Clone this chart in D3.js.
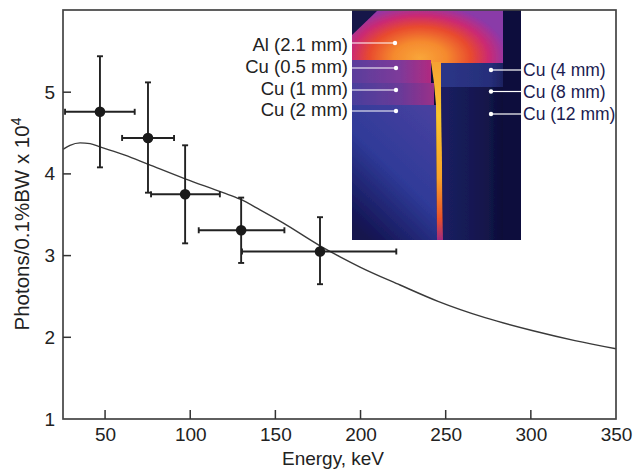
<!DOCTYPE html>
<html><head><meta charset="utf-8">
<script src="https://cdn.jsdelivr.net/npm/d3@7"></script>
<style>html,body{margin:0;padding:0;background:#fff;overflow:hidden}svg{display:block}text{font-family:"Liberation Sans",Arial,sans-serif}</style>
</head><body><svg id="c" width="633" height="470"></svg>
<script>
const curveE=[25.3,29.4,35.3,41.2,47,61.7,75.1,97,119.3,129.3,141,154.5,176.2,188,199.7,223.2,245.5,273.1,301.3,325.9,350];
const curveP=[4.30,4.35,4.38,4.37,4.33,4.23,4.12,3.94,3.77,3.69,3.56,3.40,3.12,2.985,2.86,2.64,2.44,2.24,2.08,1.96,1.86];
const ptE=[47,75.2,97,129.9,176.2];
const ptP=[4.76,4.44,3.75,3.31,3.05];
const ptELo=[26.5,60,77,105,130.4];
const ptEHi=[67.4,90.5,117.4,155.3,221];
const ptPLo=[4.08,3.77,3.15,2.91,2.65];
const ptPHi=[5.44,5.12,4.35,3.71,3.47];
const xTicks=[50,100,150,200,250,300,350];
const yTicks=[1,2,3,4,5];
const leftLabels=["Al (2.1 mm)","Cu (0.5 mm)","Cu (1 mm)","Cu (2 mm)"];
const rightLabels=["Cu (4 mm)","Cu (8 mm)","Cu (12 mm)"];

const svg=d3.select("#c");
const L=63,R=616,T=10,B=419;
const x=d3.scaleLinear().domain([25.3,350]).range([L,R]);
const y=d3.scaleLinear().domain([1,6.006]).range([B,T]);

// thermal inset
const defs=svg.append("defs");
function grad(tag,id,attrs,stops){const g=defs.append(tag).attr("id",id);Object.entries(attrs).forEach(([k,v])=>g.attr(k,v));
 stops.forEach(s=>g.append("stop").attr("offset",s[0]).attr("stop-color",s[1]));}
grad("radialGradient","dome",{gradientUnits:"userSpaceOnUse",cx:0,cy:0,r:1,gradientTransform:"translate(420,58) scale(88,54)"},
 [[0,"#f9a63a"],[.3,"#f58a2e"],[.58,"#e84a2e"],[.78,"#cb2a72"],[.95,"#9a35a0"],[1,"#8a3aa8"]]);
grad("linearGradient","cu05",{x1:0,x2:1,y1:0,y2:0},[[0,"#5a3d9c"],[.6,"#7d3a9a"],[1,"#b02a80"]]);
grad("linearGradient","cu1",{x1:0,x2:1,y1:0,y2:0},[[0,"#4a3f9c"],[.6,"#6a3a98"],[1,"#9a2f88"]]);
grad("linearGradient","cu2",{x1:0.8,x2:0.2,y1:0,y2:1},[[0,"#46409f"],[.5,"#2f3a98"],[1,"#12124e"]]);
grad("linearGradient","r1",{x1:0,x2:1,y1:0,y2:0},[[0,"#2c3688"],[.8,"#262e7a"],[1,"#1d2260"]]);
grad("linearGradient","r2",{x1:0,x2:1,y1:0,y2:0},[[0,"#1b1f62"],[.7,"#14164c"],[1,"#0c0d38"]]);
grad("linearGradient","slit",{x1:0,x2:0,y1:0,y2:1},[[0,"#f6a033"],[.3,"#f9c62e"],[.65,"#f8a22a"],[.88,"#e8502c"],[1,"#a02a80"]]);
defs.append("filter").attr("id","soft").append("feGaussianBlur").attr("stdDeviation",0.6);
const im=svg.append("g").attr("filter","url(#soft)");
const rect=(a,b,c,d,f)=>im.append("rect").attr("x",a).attr("y",b).attr("width",c-a).attr("height",d-b).attr("fill",f);
const poly=(p,f)=>im.append("polygon").attr("points",p).attr("fill",f);
rect(352,10,521,240,"#0d0e3c");
rect(352,10,503,63,"url(#dome)");
poly("352,10 378,10 352,35","#12124a");
rect(352,60,431,83,"url(#cu05)");
rect(352,83,434,105,"url(#cu1)");
poly("352,105 436,105 437,240 352,240","url(#cu2)");
poly("431,62 441,62 443,240 437,240 436,105 434,83","url(#slit)");
rect(441,63,503,87,"url(#r1)");
rect(503,63,521,240,"#0d0e3c");
poly("441,87 503,87 503,240 443,240","url(#r2)");

// leaders
const leftY=[43,68,90,111],leftEnd=[395,396,396,396],leftTxt=[46,68,90,111];
leftLabels.forEach((t,i)=>{
 svg.append("line").attr("x1",352).attr("x2",leftEnd[i]).attr("y1",leftY[i]).attr("y2",leftY[i]).attr("stroke","#fff").attr("stroke-width",1.2);
 svg.append("circle").attr("cx",leftEnd[i]).attr("cy",leftY[i]).attr("r",2.2).attr("fill","#fff");
 svg.append("text").attr("x",348).attr("y",leftTxt[i]+5).attr("text-anchor","end").attr("font-size",18.5).attr("fill","#222").text(t);
});
const rightY=[70,91.5,114];
rightLabels.forEach((t,i)=>{
 svg.append("line").attr("x1",491).attr("x2",522).attr("y1",rightY[i]).attr("y2",rightY[i]).attr("stroke","#fff").attr("stroke-width",1.2);
 svg.append("circle").attr("cx",491).attr("cy",rightY[i]).attr("r",2.2).attr("fill","#fff");
 svg.append("text").attr("x",523).attr("y",rightY[i]+6).attr("font-size",17.5).attr("fill","#1b1b50").text(t);
});

// curve
const line=d3.line().x(d=>x(d[0])).y(d=>y(d[1])).curve(d3.curveMonotoneX);
svg.append("path").attr("d",line(curveE.map((e,i)=>[e,curveP[i]]))).attr("fill","none").attr("stroke","#3a3a3a").attr("stroke-width",1.4);

// error bars
const ink="#222";
ptE.forEach((e,i)=>{
 const g=svg.append("g").attr("stroke",ink).attr("stroke-width",1.9);
 g.append("line").attr("x1",x(ptELo[i])).attr("x2",x(ptEHi[i])).attr("y1",y(ptP[i])).attr("y2",y(ptP[i]));
 g.append("line").attr("x1",x(e)).attr("x2",x(e)).attr("y1",y(ptPLo[i])).attr("y2",y(ptPHi[i]));
 [ptELo[i],ptEHi[i]].forEach(v=>g.append("line").attr("x1",x(v)).attr("x2",x(v)).attr("y1",y(ptP[i])-3).attr("y2",y(ptP[i])+3));
 [ptPLo[i],ptPHi[i]].forEach(v=>g.append("line").attr("x1",x(e)-3).attr("x2",x(e)+3).attr("y1",y(v)).attr("y2",y(v)));
 svg.append("circle").attr("cx",x(e)).attr("cy",y(ptP[i])).attr("r",5.3).attr("fill","#1a1a1a");
});

// frame and axes
svg.append("rect").attr("x",L).attr("y",T).attr("width",R-L).attr("height",B-T).attr("fill","none").attr("stroke","#444").attr("stroke-width",1.7);
const gx=svg.append("g").attr("transform",`translate(0,${B})`).call(d3.axisBottom(x).tickValues(xTicks).tickFormat(d3.format("d")).tickSizeOuter(0).tickSizeInner(0).tickPadding(9));
const gy=svg.append("g").attr("transform",`translate(${L},0)`).call(d3.axisLeft(y).tickValues(yTicks).tickFormat(d3.format("d")).tickSizeOuter(0).tickSizeInner(0).tickPadding(8));
[gx,gy].forEach(g=>{g.select(".domain").remove();
 g.selectAll("text").attr("font-size",19).attr("fill","#222").style("font-family",'"Liberation Sans",Arial,sans-serif');});
// inward tick marks
svg.append("g").selectAll("line").data(xTicks.slice(0,-1)).join("line")
 .attr("x1",d=>x(d)).attr("x2",d=>x(d)).attr("y1",B).attr("y2",B-9).attr("stroke","#333").attr("stroke-width",1.5);
svg.append("g").selectAll("line").data(yTicks.slice(1)).join("line")
 .attr("x1",L).attr("x2",L+8).attr("y1",d=>y(d)).attr("y2",d=>y(d)).attr("stroke","#333").attr("stroke-width",1.5);

svg.append("text").attr("x",333).attr("y",464.5).attr("text-anchor","middle").attr("font-size",19).attr("fill","#222").text("Energy, keV");
const yl=svg.append("text").attr("transform","translate(29,224) rotate(-90)").attr("text-anchor","middle").attr("font-size",20.5).attr("fill","#222");
yl.append("tspan").text("Photons/0.1%BW x 10");
yl.append("tspan").attr("dy",-8).attr("font-size",14).text("4");
</script></body></html>
